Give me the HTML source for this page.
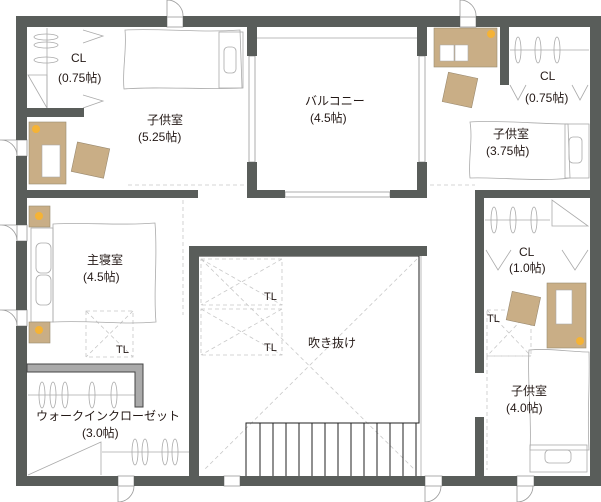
<!DOCTYPE html>
<html><head><meta charset="utf-8"><style>
html,body{margin:0;padding:0;background:#fff;}
svg{display:block;}
text{font-family:"Liberation Sans","Noto Sans CJK JP",sans-serif;font-size:12px;fill:#231815;}
</style></head><body>
<svg width="601" height="502" viewBox="0 0 601 502" xmlns="http://www.w3.org/2000/svg">
<g fill="none" stroke="#9a9a9a" stroke-width="0.8">
<path d="M167 17 V0 A16 16 0 0 1 183 17"/>
<path d="M460 17 V0 A16 16 0 0 1 476 17"/>
<path d="M17 140 H0 A16 16 0 0 1 17 156"/>
<path d="M17 225 H0 A16 16 0 0 1 17 241"/>
<path d="M17 310 H0 A16 16 0 0 1 17 326"/>
<path d="M118 486 V502 A16 16 0 0 0 134 486" />
<path d="M425 486 V502 A16 16 0 0 0 441 486"/>
<path d="M517 486 V502 A16 16 0 0 0 533 486"/>
</g>
<g fill="none" stroke="#c8c8c8" stroke-width="0.8" stroke-dasharray="4,3">
<line x1="128" y1="185" x2="245" y2="185"/>
<line x1="183" y1="200" x2="183" y2="315"/>
<line x1="430" y1="185" x2="475" y2="185"/>
<rect x="86" y="311" width="47" height="46"/>
<line x1="86" y1="311" x2="133" y2="357"/><line x1="133" y1="311" x2="86" y2="357"/>
<rect x="201" y="259" width="81" height="46"/>
<rect x="201" y="309" width="81" height="46"/>
<line x1="201" y1="259" x2="282" y2="305"/><line x1="282" y1="259" x2="201" y2="305"/>
<line x1="201" y1="309" x2="282" y2="355"/><line x1="282" y1="309" x2="201" y2="355"/>
<line x1="201" y1="259" x2="415" y2="470"/>
<line x1="417" y1="259" x2="204" y2="470"/>
<rect x="487" y="310" width="44" height="46"/>
<line x1="487" y1="310" x2="531" y2="356"/><line x1="531" y1="310" x2="487" y2="356"/>
<line x1="487" y1="356" x2="487" y2="470"/>
<line x1="487" y1="356" x2="531" y2="356"/>
</g>
<g fill="none" stroke="#222" stroke-width="1">
<path d="M199 256 H419 V423 H246 V476"/>
<line x1="260" y1="423" x2="260" y2="476"/><line x1="273" y1="423" x2="273" y2="476"/>
<line x1="286" y1="423" x2="286" y2="476"/><line x1="299" y1="423" x2="299" y2="476"/>
<line x1="312" y1="423" x2="312" y2="476"/><line x1="325" y1="423" x2="325" y2="476"/>
<line x1="338" y1="423" x2="338" y2="476"/><line x1="351" y1="423" x2="351" y2="476"/>
<line x1="364" y1="423" x2="364" y2="476"/><line x1="377" y1="423" x2="377" y2="476"/>
<line x1="390" y1="423" x2="390" y2="476"/><line x1="403" y1="423" x2="403" y2="476"/>
<line x1="416" y1="423" x2="416" y2="476"/>
</g>
<line x1="421" y1="256" x2="421" y2="476" stroke="#bbb"/>
<g fill="#fff" stroke="#999" stroke-width="0.8">
<rect x="249" y="56" width="6" height="106"/>
<rect x="419" y="56" width="6" height="106"/>
<rect x="285" y="192" width="105" height="5"/>
<rect x="167" y="17" width="16" height="10"/>
<rect x="460" y="17" width="16" height="10"/>
<rect x="17" y="140" width="10" height="16"/>
<rect x="17" y="225" width="10" height="16"/>
<rect x="17" y="310" width="10" height="16"/>
<rect x="118" y="476" width="16" height="10"/>
<rect x="224" y="476" width="16" height="10"/>
<rect x="425" y="476" width="17" height="10"/>
<rect x="517" y="476" width="17" height="10"/>
</g>
<line x1="257" y1="38" x2="417" y2="38" stroke="#bbb"/>
<g fill="none" stroke="#aaa" stroke-width="0.8">
<line x1="47" y1="28" x2="47" y2="108"/>
<path d="M28 75 H47 V108 Z"/>
<ellipse cx="46" cy="37" rx="12" ry="3"/><ellipse cx="46" cy="45" rx="12" ry="3"/><ellipse cx="46" cy="60" rx="12" ry="3"/>
<path d="M83 30 L103 36 L83 43"/><path d="M83 95 L103 101 L83 108"/>
<line x1="510" y1="50" x2="589" y2="50"/>
<ellipse cx="518" cy="50" rx="3" ry="13"/><ellipse cx="538" cy="50" rx="3" ry="13"/><ellipse cx="557" cy="50" rx="3" ry="13"/>
<path d="M510 85 L518 100 L526 85"/><path d="M572 85 L580 100 L588 85"/>
<line x1="485" y1="220" x2="550" y2="220"/>
<ellipse cx="494" cy="220" rx="3" ry="13"/><ellipse cx="513" cy="220" rx="3" ry="13"/><ellipse cx="534" cy="220" rx="3" ry="13"/>
<path d="M552 200 V226 H588 Z"/>
<path d="M486 250 L498 270 L511 250"/><path d="M562 250 L575 270 L588 250"/>
<line x1="28" y1="395" x2="135" y2="395"/>
<ellipse cx="42" cy="395" rx="3" ry="13"/><ellipse cx="53" cy="395" rx="3" ry="13"/><ellipse cx="65" cy="395" rx="3" ry="13"/><ellipse cx="92" cy="395" rx="3" ry="13"/><ellipse cx="114" cy="395" rx="3" ry="13"/>
<line x1="102" y1="452" x2="189" y2="452"/>
<ellipse cx="135" cy="452" rx="3" ry="13"/><ellipse cx="145" cy="452" rx="3" ry="13"/><ellipse cx="165" cy="452" rx="3" ry="13"/><ellipse cx="175" cy="452" rx="3" ry="13"/>
<path d="M28 475 L101 442 V475"/>
<path d="M125 30 C160 28 200 33 240 30 L242 88 C200 90 160 86 124 89 C122 70 127 50 125 30 Z"/>
<rect x="219" y="32" width="24" height="56"/>
<rect x="224" y="47" width="12" height="26" rx="4"/>
<path d="M470 122 C500 120 540 124 568 124 L570 178 C540 182 500 177 470 178 C468 160 473 140 470 122 Z"/>
<rect x="565" y="124" width="24" height="54"/>
<rect x="569" y="137" width="13" height="26" rx="4"/>
<path d="M53 224 C90 222 120 226 155 223 C158 260 153 290 156 322 C120 325 90 320 53 322 Z"/>
<rect x="31" y="228" width="22" height="94"/>
<rect x="36" y="243" width="15" height="30" rx="5"/><rect x="36" y="275" width="15" height="30" rx="5"/>
<path d="M529 350 C550 348 570 352 589 352 C590 390 587 410 589 450 L530 450 C532 420 527 380 529 350 Z"/>
<rect x="530" y="445" width="57" height="27"/>
<rect x="545" y="450" width="26" height="13" rx="4"/>
</g>
<g fill="#c9ae86" stroke="#9a8a70" stroke-width="0.6">
<rect x="29" y="122" width="37" height="62"/>
<rect x="74" y="145" width="33" height="30" transform="rotate(12 90 160)"/>
<rect x="29" y="206" width="21" height="21"/>
<rect x="29" y="322" width="21" height="21"/>
<rect x="434" y="28" width="63" height="39"/>
<rect x="445" y="75" width="30" height="30" transform="rotate(12 460 90)"/>
<rect x="547" y="283" width="39" height="65"/>
<rect x="509" y="294" width="29" height="29" transform="rotate(12 523 308)"/>
</g>
<g fill="#fff" stroke="#aaa" stroke-width="0.6">
<rect x="42" y="145" width="18" height="32"/>
<path d="M440 45 h14 v16 h-14 z M455 45 h13 v16 h-13 z"/>
<rect x="556" y="290" width="16" height="34"/>
</g>
<g fill="#f5b335"><circle cx="36" cy="129" r="4"/><circle cx="39" cy="216" r="4"/><circle cx="39" cy="330" r="4"/><circle cx="491" cy="34" r="4"/><circle cx="580" cy="341" r="4"/></g>
<g fill="#595d5a">
<rect x="16" y="16" width="151" height="11"/><rect x="183" y="16" width="277" height="11"/><rect x="476" y="16" width="125" height="11"/>
<rect x="590" y="16" width="11" height="470"/>
<rect x="16" y="16" width="11" height="124"/><rect x="16" y="156" width="11" height="69"/><rect x="16" y="241" width="11" height="69"/><rect x="16" y="326" width="11" height="160"/>
<rect x="16" y="476" width="102" height="10"/><rect x="134" y="476" width="90" height="10"/><rect x="240" y="476" width="185" height="10"/><rect x="442" y="476" width="75" height="10"/><rect x="534" y="476" width="67" height="10"/>
<rect x="27" y="108" width="57" height="9"/>
<rect x="27" y="190" width="171" height="8"/>
<rect x="247" y="27" width="10" height="29"/><rect x="247" y="162" width="10" height="36"/><rect x="247" y="190" width="38" height="8"/>
<rect x="417" y="27" width="10" height="29"/><rect x="417" y="162" width="10" height="36"/><rect x="390" y="190" width="37" height="8"/>
<rect x="500" y="27" width="9" height="58"/>
<rect x="475" y="190" width="115" height="8"/>
<rect x="475" y="190" width="9" height="183"/><rect x="475" y="417" width="9" height="59"/>
<rect x="189" y="246" width="238" height="10"/><rect x="189" y="246" width="10" height="230"/>
</g>
<path d="M27 364 H143 V407 H135 V372 H27 Z" fill="#aaa" stroke="#444" stroke-width="1"/>
<text x="71" y="62">CL</text><text x="58" y="82">(0.75帖)</text>
<text x="147" y="124">子供室</text><text x="138" y="141">(5.25帖)</text>
<text x="305" y="105">バルコニー</text><text x="310" y="122">(4.5帖)</text>
<text x="540" y="80">CL</text><text x="525" y="102">(0.75帖)</text>
<text x="493" y="138">子供室</text><text x="486" y="155">(3.75帖)</text>
<text x="87" y="264">主寝室</text><text x="83" y="281">(4.5帖)</text>
<text x="116" y="353" style="font-size:11px">TL</text>
<text x="264" y="300" style="font-size:11px">TL</text><text x="264" y="351" style="font-size:11px">TL</text>
<text x="308" y="347">吹き抜け</text>
<text x="519" y="256">CL</text><text x="509" y="272">(1.0帖)</text>
<text x="487" y="322" style="font-size:11px">TL</text>
<text x="511" y="395">子供室</text><text x="506" y="412">(4.0帖)</text>
<text x="36" y="420">ウォークインクローゼット</text><text x="82" y="437">(3.0帖)</text>
</svg>
</body></html>
